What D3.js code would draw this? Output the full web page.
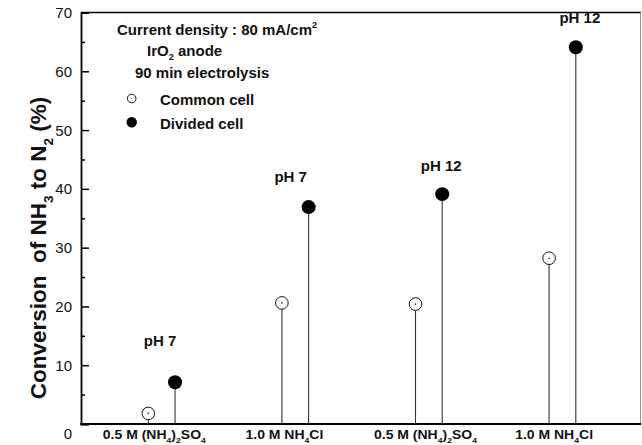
<!DOCTYPE html>
<html>
<head>
<meta charset="utf-8">
<script src="https://cdn.jsdelivr.net/npm/d3@7"></script>
<style>
  html, body { margin: 0; padding: 0; background: #fff; }
  svg { display: block; font-family: "Liberation Sans", Arial, sans-serif; }
</style>
</head>
<body>
<svg id="chart" width="642" height="445"></svg>
<script>
// ---------- data ----------
const categories = ["0.5 M (NH4)2SO4", "1.0 M NH4Cl", "0.5 M (NH4)2SO4", "1.0 M NH4Cl"];
const phLabels = ["pH 7", "pH 7", "pH 12", "pH 12"];
const commonCell = [1.8, 20.6, 20.4, 28.2];
const dividedCell = [7.1, 36.9, 39.1, 64.1];
const yTicks = [0, 10, 20, 30, 40, 50, 60, 70];
const yMinorTicks = [5, 15, 25, 35, 45, 55, 65];
const seriesNames = ["Common cell", "Divided cell"];
const infoLines = ["Current density : 80 mA/cm^2", "IrO2 anode", "90 min electrolysis"];
const yTitle = "Conversion  of NH3 to N2 (%)";

// ---------- layout ----------
const svg = d3.select("#chart");
const pL = 81, pR = 641, pT = 12.5, pB = 424;
const x = d3.scaleLinear().domain([0.396, 4.588]).range([pL, pR]);
const y = d3.scaleLinear().domain([0, 70]).range([pB, pT]);
const offset = 0.1; // common at i - offset, divided at i + offset

// rich text: digit after letter or ')' -> subscript, ^x -> superscript
function richText(sel, str, subScale) {
  subScale = subScale || 0.65;
  const segs = [];
  let i = 0;
  while (i < str.length) {
    const c = str[i];
    if (c === "^") { segs.push({t: str[i + 1], k: "sup"}); i += 2; continue; }
    const prev = i > 0 ? str[i - 1] : "";
    if (/[0-9]/.test(c) && /[A-Za-z)]/.test(prev)) { segs.push({t: c, k: "sub"}); i++; continue; }
    if (segs.length && segs[segs.length - 1].k === "n") segs[segs.length - 1].t += c;
    else segs.push({t: c, k: "n"});
    i++;
  }
  let shift = 0;
  segs.forEach(s => {
    const ts = sel.append("tspan").text(s.t);
    let target = 0;
    if (s.k === "sub") { target = 0.32; ts.style("font-size", subScale + "em"); }
    if (s.k === "sup") { target = -0.45; ts.style("font-size", subScale + "em"); }
    const fs = s.k === "n" ? 1 : subScale;
    const d = target - shift;
    if (d !== 0) ts.attr("dy", (d / fs) + "em");
    shift = target;
  });
  sel.style("white-space", "pre");
}

// ---------- frame ----------
svg.append("line").attr("x1", pL).attr("x2", pR).attr("y1", pT).attr("y2", pT)
  .attr("stroke", "#000").attr("stroke-width", 1.5);
svg.append("line").attr("x1", pR - 0.5).attr("x2", pR - 0.5).attr("y1", pT).attr("y2", pB)
  .attr("stroke", "#999").attr("stroke-width", 1);

// ---------- y axis ----------
const yAxis = svg.append("g").attr("transform", `translate(${pL},0)`)
  .call(d3.axisLeft(y).tickValues(yTicks).tickSize(-8).tickPadding(9).tickFormat(d3.format("d")));
yAxis.select(".domain").attr("stroke-width", 1.8);
yAxis.selectAll(".tick line").attr("stroke-width", 1.5);
yAxis.selectAll(".tick text").style("font-size", "15px").style("font-family", "'Liberation Sans', Arial, sans-serif")
  .attr("fill", "#111")
  .attr("dy", d => d === 0 ? "0.95em" : "0.34em");
const yMinor = svg.append("g").attr("transform", `translate(${pL},0)`)
  .call(d3.axisLeft(y).tickValues(yMinorTicks).tickSize(-4).tickFormat(""));
yMinor.select(".domain").remove();
yMinor.selectAll(".tick line").attr("stroke-width", 1.5);

// bottom axis line
svg.append("line").attr("x1", pL - 0.9).attr("x2", pR).attr("y1", pB).attr("y2", pB)
  .attr("stroke", "#000").attr("stroke-width", 2);

// y title
const yt = svg.append("text")
  .attr("transform", `translate(46,248) rotate(-90)`)
  .attr("text-anchor", "middle")
  .style("font-size", "22.5px").style("font-weight", "bold").attr("fill", "#111");
richText(yt, yTitle, 0.6);

// ---------- category labels ----------
const catDx = [6, 2.5, 10, 5];
categories.forEach((c, i) => {
  const cx = x(i + 1 - offset) + catDx[i];
  const t = svg.append("text")
    .attr("transform", `translate(${cx},439) scale(1,0.88)`)
    .attr("text-anchor", "middle")
    .style("font-size", "14px").style("font-weight", "bold").attr("fill", "#111");
  richText(t, c, 0.62);
});

// ---------- stems ----------
const stems = [];
commonCell.forEach((v, i) => stems.push({xv: i + 1 - offset, v, kind: "common"}));
dividedCell.forEach((v, i) => stems.push({xv: i + 1 + offset, v, kind: "divided"}));

svg.selectAll("line.stem").data(stems).join("line").attr("class", "stem")
  .attr("x1", d => x(d.xv)).attr("x2", d => x(d.xv))
  .attr("y1", d => y(d.v)).attr("y2", pB)
  .attr("stroke", "#333").attr("stroke-width", 1.1);

// divided markers
svg.selectAll("circle.div").data(stems.filter(d => d.kind === "divided")).join("circle").attr("class", "div")
  .attr("cx", d => x(d.xv)).attr("cy", d => y(d.v)).attr("r", 7).attr("fill", "#000");
// common markers
const cm = stems.filter(d => d.kind === "common");
svg.selectAll("circle.com").data(cm).join("circle").attr("class", "com")
  .attr("cx", d => x(d.xv)).attr("cy", d => y(d.v)).attr("r", 6.3)
  .attr("fill", "#fff").attr("stroke", "#111").attr("stroke-width", 1);
svg.selectAll("circle.comdot").data(cm).join("circle").attr("class", "comdot")
  .attr("cx", d => x(d.xv)).attr("cy", d => y(d.v)).attr("r", 0.8).attr("fill", "#222");

// ---------- pH labels ----------
const phDx = [-15, -18, -1, 4], phDy = [-36, -25, -23.5, -24.4];
phLabels.forEach((p, i) => {
  svg.append("text")
    .attr("x", x(i + 1 + offset) + phDx[i])
    .attr("y", y(dividedCell[i]) + phDy[i])
    .attr("text-anchor", "middle")
    .style("font-size", "15px").style("font-weight", "bold").attr("fill", "#111")
    .text(p);
});

// ---------- info text & legend ----------
const infoPos = [[117, 35], [147, 55.5], [135, 77.5]];
infoLines.forEach((s, i) => {
  const t = svg.append("text").attr("x", infoPos[i][0]).attr("y", infoPos[i][1])
    .style("font-size", "15px").style("font-weight", "bold").attr("fill", "#111");
  richText(t, s, 0.62);
});

const legY = [98.5, 122.3];
seriesNames.forEach((name, i) => {
  if (i === 0) {
    svg.append("circle").attr("cx", 131.7).attr("cy", legY[i]).attr("r", 4.3)
      .attr("fill", "#fff").attr("stroke", "#111").attr("stroke-width", 1);
    svg.append("circle").attr("cx", 131.7).attr("cy", legY[i]).attr("r", 0.6).attr("fill", "#222");
  } else {
    svg.append("circle").attr("cx", 131.7).attr("cy", legY[i]).attr("r", 5.2).attr("fill", "#000");
  }
  svg.append("text").attr("x", 160).attr("y", legY[i] + 6.3)
    .style("font-size", "15px").style("font-weight", "bold").attr("fill", "#111")
    .text(name);
});
</script>
</body>
</html>
